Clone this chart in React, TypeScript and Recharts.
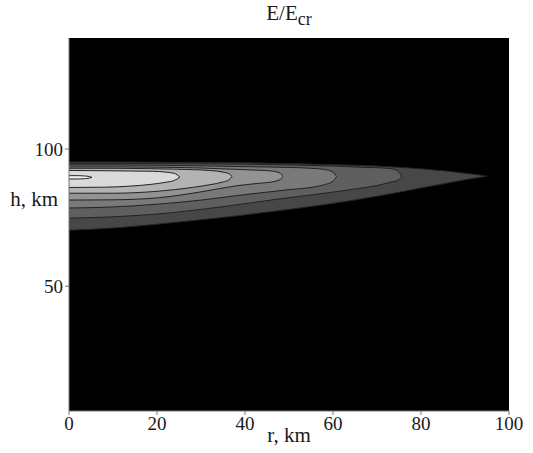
import { Area, CartesianGrid, ComposedChart, XAxis, YAxis } from "recharts";

// contour levels of E/Ecr, outer to inner: [r km, lower h km, upper h km]
const level1 = [
  [0, 70.4, 95.3], [10, 71.2, 95.3], [20, 72.6, 95.2], [30, 74.2, 95.1], [40, 76.0, 95.0],
  [50, 78.0, 94.7], [60, 80.2, 94.3], [70, 82.8, 93.8], [80, 85.8, 92.8], [85, 87.3, 92.1],
  [90, 88.8, 91.2], [93, 89.6, 90.6], [95, 90.1, 90.1],
];
const level2 = [
  [0, 74.8, 94.7], [10, 75.3, 94.7], [20, 76.3, 94.7], [30, 78.0, 94.6], [40, 80.1, 94.5],
  [50, 82.3, 94.2], [60, 84.3, 93.8], [66, 85.7, 93.4], [70, 86.7, 93.2], [73, 87.9, 92.9],
  [74.8, 88.7, 91.9], [75.6, 90.1, 90.1],
];
const level3 = [
  [0, 78.5, 94.2], [10, 78.9, 94.2], [20, 79.9, 94.1], [30, 81.4, 93.9], [40, 83.4, 93.6],
  [50, 85.2, 93.3], [55, 86.0, 93.0], [58, 87.0, 92.6], [60, 88.3, 91.6], [60.8, 90.0, 90.0],
];
const level4 = [
  [0, 81.4, 93.5], [10, 81.5, 93.5], [20, 82.2, 93.4], [30, 84.4, 93.1], [38, 86.6, 92.6],
  [43, 87.5, 92.3], [46, 88.0, 92.0], [48, 88.9, 91.2], [48.6, 90.0, 90.0],
];
const level5 = [
  [0, 83.9, 93.0], [10, 83.9, 93.0], [20, 84.6, 92.8], [28, 86.0, 92.5], [32, 87.0, 92.2],
  [35, 88.0, 91.6], [36.4, 88.8, 91.0], [37, 90.0, 90.0],
];
const level6 = [
  [0, 86.0, 92.2], [8, 86.1, 92.1], [14, 86.5, 92.0], [19, 87.2, 91.9], [22, 87.9, 91.6],
  [24, 88.6, 91.1], [25.2, 89.8, 89.8],
];
const level7 = [
  [0, 89.1, 90.3], [2, 89.1, 90.3], [3.5, 89.2, 90.2], [4.6, 89.4, 90.0], [5.2, 89.7, 89.7],
];

const levels = [level1, level2, level3, level4, level5, level6, level7];
const fills = ["#474747", "#5f5f5f", "#797979", "#939393", "#b3b3b3", "#dadada", "#f7f7f7"];

const xTicks = [0, 20, 40, 60, 80, 100];
const yTicks = [50, 100];

// one row per r, each level holds [lo, hi] where it exists
const rValues = Array.from(new Set(levels.flatMap((lv) => lv.map((p) => p[0])))).sort((a, b) => a - b);
const data = rValues.map((r) => {
  const row: Record<string, unknown> = { r };
  levels.forEach((lv, i) => {
    const p = lv.find((q) => q[0] === r);
    row[`l${i + 1}`] = p ? [p[1], p[2]] : null;
  });
  return row;
});

const serif = '"Times New Roman", "Liberation Serif", "DejaVu Serif", serif';
const tickStyle = { fontSize: 19, fill: "#1a1a1a", fontFamily: serif };

export default function App() {
  return (
    <div style={{ position: "absolute", left: 0, top: 0, width: 533, height: 453, background: "#fff", fontFamily: serif }}>
      <ComposedChart width={533} height={453} data={data} margin={{ top: 38, right: 24, bottom: 0, left: 0 }}>
        <CartesianGrid fill="#000" horizontal={false} vertical={false} />
        <XAxis
          dataKey="r"
          type="number"
          domain={[0, 100]}
          ticks={xTicks}
          allowDataOverflow
          height={42}
          tickSize={4}
          tickMargin={2}
          stroke="#777"
          tick={tickStyle}
        />
        <YAxis
          type="number"
          domain={[4.5, 140.5]}
          ticks={yTicks}
          allowDataOverflow
          width={69}
          tickSize={4}
          tickMargin={2}
          stroke="#777"
          tick={tickStyle}
        />
        {levels.map((_, i) => (
          <Area
            key={i}
            dataKey={`l${i + 1}`}
            type="monotone"
            connectNulls
            fill={fills[i]}
            fillOpacity={1}
            stroke="#222"
            strokeWidth={1}
            dot={false}
            activeDot={false}
            isAnimationActive={false}
          />
        ))}
      </ComposedChart>
      <div style={{ position: "absolute", left: 189, width: 200, top: 1, textAlign: "center", fontSize: 21, color: "#1a1a1a" }}>
        E/E<sub style={{ fontSize: 18 }}>cr</sub>
      </div>
      <div style={{ position: "absolute", left: 0, width: 58, top: 187, textAlign: "right", fontSize: 21, color: "#1a1a1a" }}>
        h, km
      </div>
      <div style={{ position: "absolute", left: 189, width: 200, top: 423, textAlign: "center", fontSize: 21, color: "#1a1a1a" }}>
        r, km
      </div>
    </div>
  );
}
